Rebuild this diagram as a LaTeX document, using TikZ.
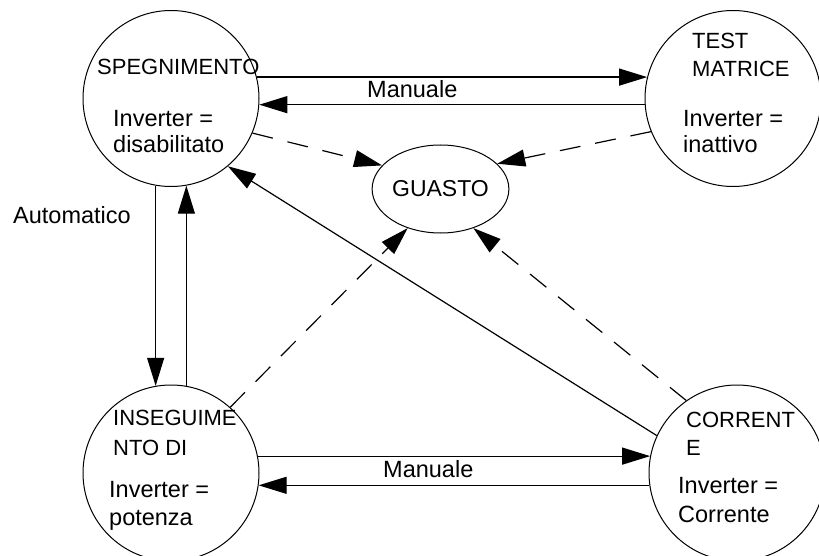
\documentclass[tikz,border=0pt]{standalone}
\usepackage{fontspec}
\setmainfont{Liberation Sans}
\usetikzlibrary{arrows.meta,shapes.geometric}

\begin{document}
\begin{tikzpicture}[x=1pt, y=-1pt,
    state/.style={circle, draw, line width=1pt, minimum size=176pt, inner sep=0pt},
    fault/.style={ellipse, draw, line width=1pt, minimum width=97pt, minimum height=88pt, inner sep=0pt, font=\fontsize{23}{27}\selectfont},
    title/.style={anchor=base west, inner sep=0pt, font=\fontsize{22}{26}\selectfont},
    body/.style={anchor=base west, inner sep=0pt, font=\fontsize{23.5}{28}\selectfont},
    trans/.style={-{Triangle[length=28pt, width=17pt]}, line width=1.2pt},
    tofault/.style={trans, dash pattern=on 21pt off 15pt}
  ]
    \useasboundingbox (0,0) rectangle (819,556);

    % Spegnimento
    \node[state] (speg) at (171,98.5) {};
    \node[title] (speg-t) at (97,75) {SPEGNIMENTO};
    \node[body] (speg-a) at (113,127) {Inverter =};
    \node[body] (speg-b) at (113,153) {disabilitato};

    % Test matrice
    \node[state] (test) at (733,98.5) {};
    \node[title] (test-t) at (692,49) {TEST};
    \node[title] (test-u) at (692,77) {MATRICE};
    \node[body] (test-a) at (683,127) {Inverter =};
    \node[body] (test-b) at (683,153) {inattivo};

    % Inseguimento
    \node[state] (insegu) at (171,473) {};
    \node[title] (insegu-t) at (113,425) {INSEGUIME};
    \node[title] (insegu-u) at (113,455) {NTO DI};
    \node[body] (insegu-a) at (109,497) {Inverter =};
    \node[body] (insegu-b) at (109,525) {potenza};

    % Corrente
    \node[state] (corr) at (737,473) {};
    \node[title] (corr-t) at (686,427) {CORRENT};
    \node[title] (corr-u) at (686,455) {E};
    \node[body] (corr-a) at (678,493) {Inverter =};
    \node[body] (corr-b) at (678,522) {Corrente};

    % Guasto
    \node[fault] (guasto) at (440.5,189) {GUASTO};

    % Manual transitions
    \draw[trans] (speg.14) -- (test.166);
    \draw[trans] (test.184) -- (speg.-4);
    \node[body] (man-top) at (367,98) {Manuale};
    \draw[trans] (insegu.11) -- (corr.169);
    \draw[trans] (corr.188) -- (insegu.-8);
    \node[body] (man-bot) at (383,477) {Manuale};

    % Automatic transitions
    \draw[trans] (speg.-100) -- (insegu.100);
    \draw[trans] (insegu.80) -- (speg.-80);
    \node[body] (auto) at (13,223) {Automatico};
    \draw[trans] (corr.155) -- (speg.-50);

    % Faults
    \draw[tofault] (speg.-23) -- (guasto.158);
    \draw[tofault] (test.202) -- (guasto.24);
    \draw[tofault] (insegu.48) -- (guasto.230);
    \draw[tofault] (corr.125) -- (guasto.-50);
\end{tikzpicture}
\end{document}
